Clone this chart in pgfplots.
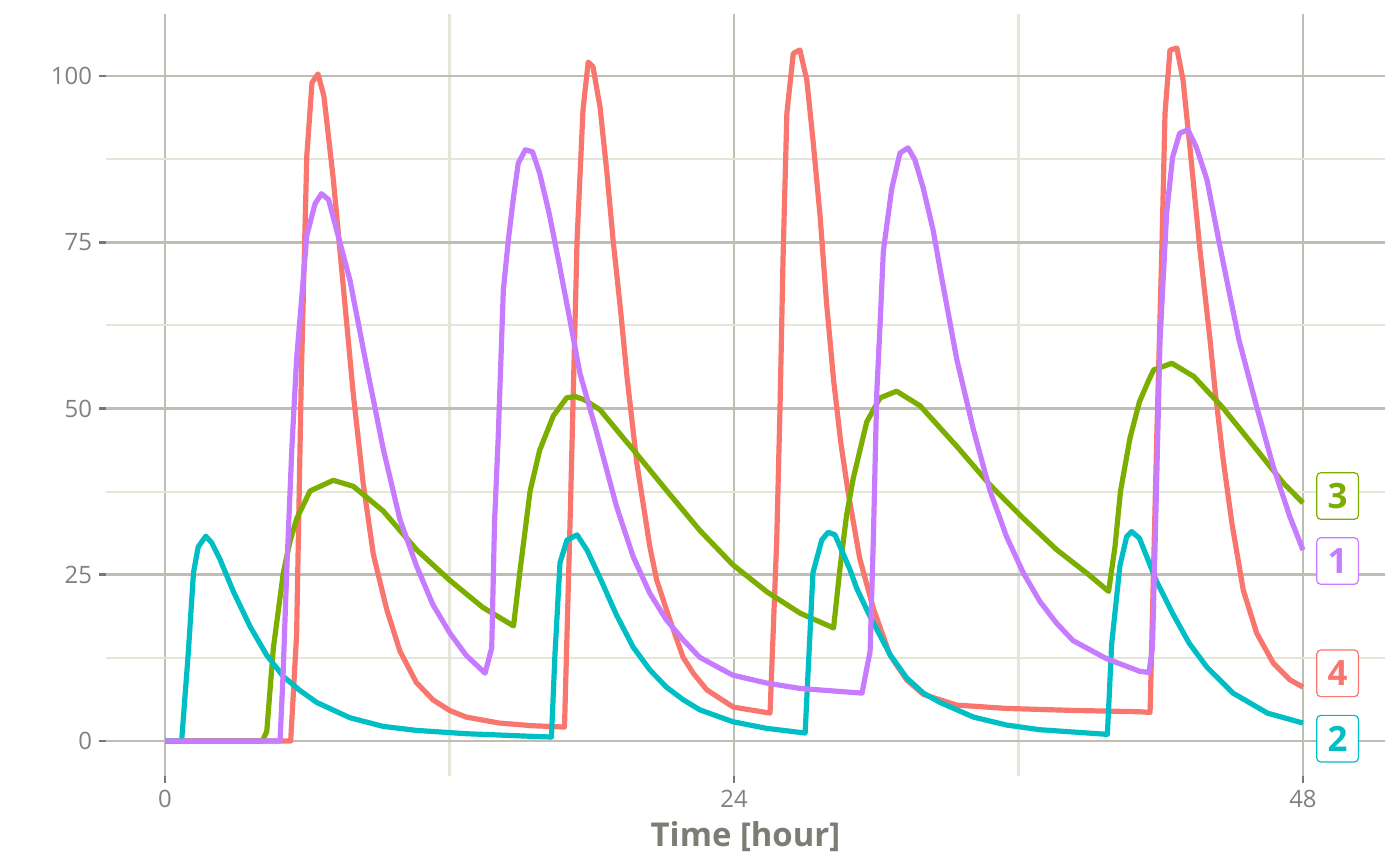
\documentclass[border=0pt]{standalone}
\usepackage{fontspec}
\setmainfont{Open Sans}
\usepackage{pgfplots}
\pgfplotsset{compat=1.18}
\definecolor{cA}{HTML}{F8766D}
\definecolor{cB}{HTML}{7CAE00}
\definecolor{cC}{HTML}{00BFC4}
\definecolor{cD}{HTML}{C77CFF}
\definecolor{gridmaj}{RGB}{190,190,178}
\definecolor{gridmin}{RGB}{230,230,216}
\definecolor{tickc}{RGB}{120,120,115}
\definecolor{txt}{RGB}{128,128,128}
\definecolor{titlec}{RGB}{125,125,118}
\tikzset{lab/.style={draw=#1, fill=white, text=#1, rounded corners=2bp, line width=0.6bp,
  minimum width=20.8bp, minimum height=23.3bp, inner sep=0pt,
  font=\bfseries\fontsize{17.5}{17.5}\selectfont}}
\begin{document}
\begin{tikzpicture}
\begin{axis}[scale only axis, width=639.5bp, height=381bp,
 xmin=-2.49, xmax=51.46, ymin=-5.26, ymax=109.32,
 xtick={0,24,48}, ytick={0,25,50,75,100},
 minor xtick={12,36}, minor ytick={12.5,37.5,62.5,87.5},
 grid=both,
 major grid style={draw=gridmaj, line width=1.3bp},
 minor grid style={draw=gridmin, line width=1.1bp},
 axis line style={draw=none},
 tick pos=left, tick align=outside,
 major tick length=3.5bp, minor tick length=0pt,
 major tick style={draw=tickc, line width=1.3bp},
 tick label style={font=\fontsize{12}{12}\selectfont, text=txt},
 /pgf/number format/assume math mode=true,
 xlabel={Time [hour]},
 xlabel style={font=\bfseries\fontsize{16.5}{16.5}\selectfont, text=titlec},
 clip=false,
 every axis plot/.append style={line width=2.6bp, line join=round},
]
\addplot[cA] coordinates {
(0,0) (5.3,0) (5.55,16) (5.75,55) (5.98,88) (6.2,99) (6.45,100.3) (6.7,97)
(7.1,84.4) (7.52,68.3) (7.94,52.2) (8.36,38.7) (8.79,28) (9.35,19.8) (9.91,13.5)
(10.6,8.8) (11.3,6.2) (12,4.6) (12.7,3.6) (14.1,2.7) (15.5,2.3) (16.85,2.1)
(17.1,35) (17.38,75.3) (17.63,94.9) (17.85,102.1) (18.05,101.4) (18.35,95.3)
(18.64,85.4) (18.9,75.3) (19.2,65.3) (19.5,54.3) (19.9,41.8) (20.45,29.2)
(20.74,24.2) (21.2,19.2) (21.85,12.6) (22.28,10.2) (22.85,7.7) (23.97,5.1) (25.52,4.2)
(25.8,30) (25.94,50) (26.07,72.8) (26.23,94.4) (26.5,103.4) (26.78,103.9)
(27.07,99.4) (27.33,90.4) (27.63,79) (27.9,66) (28.2,54.3) (28.5,45) (28.8,37.7)
(29.3,27.5) (29.88,19.9) (30.58,12.9) (31.28,9.2) (31.99,7.0) (33.4,5.4)
(35.5,4.9) (38.3,4.6) (41.1,4.4) (41.55,4.3)
(41.84,46.8) (42.05,74.3) (42.18,94.4) (42.39,103.9) (42.68,104.2)
(42.94,99.4) (43.23,89.3) (43.65,74) (44.08,60.3) (44.29,52.8) (44.62,42.7)
(45,32.8) (45.48,22.7) (46.05,16.2) (46.75,11.7) (47.45,9.2) (48,8.1)
};
\addplot[cB] coordinates {
(0,0) (4.1,0) (4.29,1.4) (4.57,14) (4.99,25.3) (5.27,30) (5.55,33.4)
(6.12,37.6) (7.1,39.2) (7.94,38.3) (9.2,34.6) (10.6,28.8) (12,24.2) (13.4,20.1)
(14.7,17.3) (14.97,25.5) (15.4,37.6) (15.8,43.7) (16.38,48.9) (16.94,51.6)
(17.3,51.8) (17.7,51.3) (18.35,49.8) (19.3,45.7) (19.75,43.8) (21.15,37.7)
(22.55,31.7) (23.95,26.5) (25.4,22.4) (26.8,19.2) (28.2,17)
(28.47,26) (28.75,34) (29.03,39.5) (29.6,48) (30.16,51.6) (30.86,52.6)
(31.85,50.4) (33.4,44.3) (34.8,38.5) (36.2,33.5) (37.6,28.8) (39.0,24.9)
(39.8,22.5) (40.07,29.2) (40.3,37.5) (40.7,45.5) (41.1,51) (41.5,54.3)
(41.7,55.8) (42.47,56.8) (43.4,54.8) (44.6,50.2) (46.05,43.8) (47.17,38.8)
(48,35.8)
};
\addplot[cC] coordinates {
(0,0) (0.7,0) (0.98,13.2) (1.2,25.3) (1.4,29.2) (1.72,30.8) (1.97,29.8)
(2.32,27.3) (2.88,22.5) (3.59,17.2) (4.29,12.9) (4.99,9.7) (5.69,7.6) (6.4,5.8)
(7.8,3.5) (9.2,2.2) (10.6,1.6) (12.7,1.1) (15.5,0.7) (16.3,0.6)
(16.45,13.2) (16.66,26.8) (16.95,30.2) (17.38,31) (17.8,28.7) (18.35,24.5)
(19.05,18.9) (19.75,14.1) (20.45,10.7) (21.15,8.1) (21.86,6.2) (22.55,4.7)
(23.95,2.9) (25.38,1.9) (27.0,1.2)
(27.33,25.3) (27.7,30.2) (27.97,31.4) (28.26,31) (28.9,25.7) (29.17,23)
(29.7,19) (30.58,13) (31.28,9.5) (31.99,7.2) (32.69,5.8) (34.1,3.6) (35.5,2.4)
(36.9,1.7) (39.75,1)
(39.93,14.6) (40.28,26.4) (40.56,30.7) (40.77,31.5) (41.1,30.5) (41.8,24.2)
(42.5,19.2) (43.2,14.7) (43.95,11.1) (45.05,7.2) (46.5,4.2) (48,2.7)
};
\addplot[cD] coordinates {
(0,0) (4.85,0) (4.98,10) (5.13,25.3) (5.35,44) (5.55,57.5) (5.7,63.8)
(5.98,76) (6.33,80.8) (6.6,82.3) (6.9,81.4) (7.24,76.8) (7.8,69.3) (8.5,56.4)
(9.2,44) (9.9,33.4) (10.6,26.4) (11.3,20.5) (12.02,16.2) (12.7,12.9) (13.5,10.2)
(13.78,14) (13.9,33) (14.05,45.3) (14.27,67.8) (14.48,75.3) (14.7,81.8)
(14.9,86.9) (15.2,88.9) (15.5,88.6) (15.8,85.4) (16.2,79.4) (16.65,71.3)
(17.1,62.9) (17.5,55.3) (18.2,46.5) (19.05,35.2) (19.75,27.7) (20.45,22.2)
(21.15,18.2) (21.86,15.2) (22.55,12.6) (23.27,11.2) (23.95,9.9) (25.4,8.7)
(26.8,7.9) (29.4,7.2)
(29.74,13.5) (29.88,30.7) (30.02,52.2) (30.15,61.8) (30.3,73.7) (30.65,83)
(31.0,88.4) (31.34,89.2) (31.63,87.4) (31.97,83.3) (32.4,76.8) (32.69,71)
(33.39,57.5) (34.1,46.8) (34.8,37.6) (35.5,30.7) (36.2,25.3) (36.9,21)
(37.61,17.7) (38.3,15.1) (39.7,12.4) (41.1,10.5) (41.5,10.3)
(41.65,14) (41.8,35) (41.97,60.3) (42.25,79.4) (42.5,87.8) (42.8,91.4)
(43.15,91.9) (43.5,89.3) (43.95,84.4) (44.5,74.3) (45.3,60.3) (46.05,50.2)
(46.75,41.2) (47.45,33.7) (48,28.7)
};
\node[lab=cB] at (axis cs:49.46,36.84) {3};
\node[lab=cD] at (axis cs:49.46,27.07) {1};
\node[lab=cA] at (axis cs:49.46,10.18) {4};
\node[lab=cC] at (axis cs:49.46,0.35) {2};
\coordinate (sw) at (rel axis cs:0,0);
\coordinate (ne) at (rel axis cs:1,1);
\end{axis}
\pgfresetboundingbox
\path ([shift={(-53bp,-44.5bp)}]sw) rectangle ([shift={(7.5bp,7bp)}]ne);
\end{tikzpicture}
\end{document}
